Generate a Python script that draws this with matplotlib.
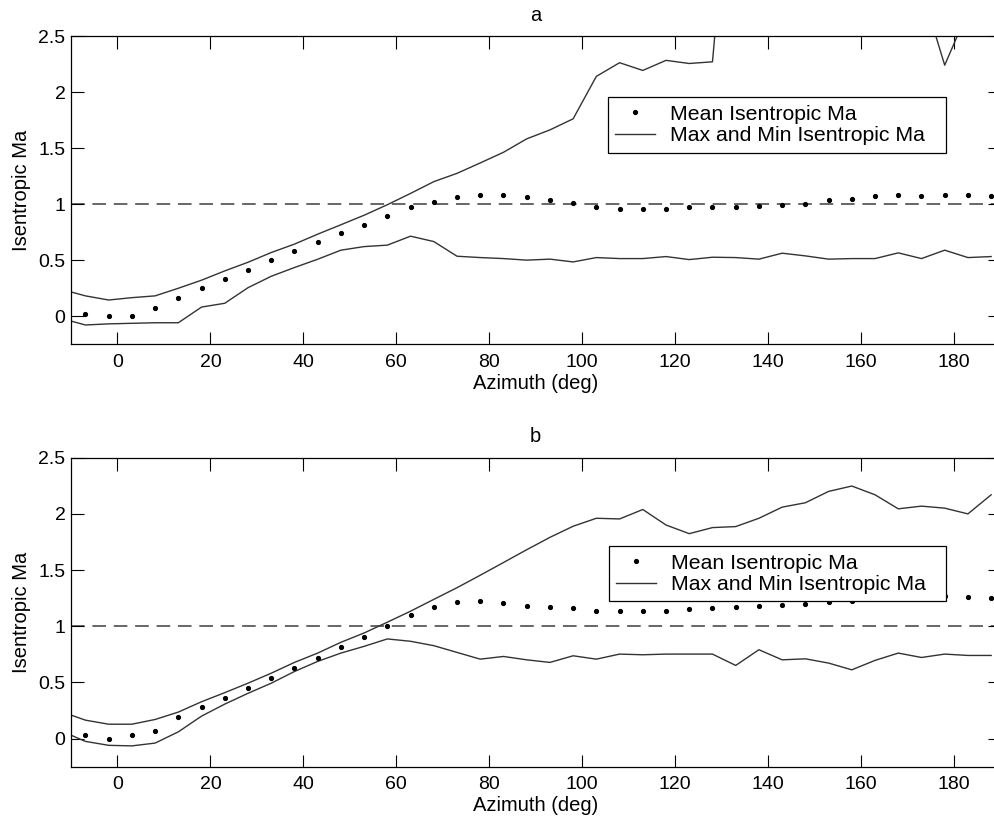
import matplotlib
matplotlib.use("Agg")
import matplotlib.pyplot as plt
from matplotlib.ticker import FuncFormatter

plt.rcParams['font.family'] = ['Liberation Sans', 'DejaVu Sans']

# ---- data ----
azimuth = [-6.9, -1.9, 3.1, 8.1, 13.1, 18.1, 23.1, 28.1, 33.1, 38.1,
           43.1, 48.1, 53.1, 58.1, 63.1, 68.1, 73.1, 78.1, 83.1, 88.1,
           93.1, 98.1, 103.1, 108.1, 113.1, 118.1, 123.1, 128.1, 133.1, 138.1,
           143.1, 148.1, 153.1, 158.1, 163.1, 168.1, 173.1, 178.1, 183.1, 188.1]
line_azimuth = [-10.0] + azimuth

# panel a
mean_a = [0.015, 0.0, 0.0, 0.07, 0.165, 0.25, 0.33, 0.415, 0.50, 0.58,
          0.66, 0.74, 0.817, 0.895, 0.97, 1.018, 1.06, 1.077, 1.077, 1.065,
          1.04, 1.012, 0.97, 0.958, 0.958, 0.958, 0.97, 0.97, 0.97, 0.98,
          0.99, 0.996, 1.032, 1.041, 1.068, 1.077, 1.068, 1.077, 1.077, 1.068]
max_a = [0.215, 0.18, 0.143, 0.164, 0.18, 0.248, 0.32, 0.403, 0.48, 0.567, 0.642,
         0.731, 0.815, 0.9, 0.994, 1.095, 1.2, 1.274, 1.367, 1.462, 1.582,
         1.662, 1.761, 2.14, 2.262, 2.193, 2.283, 2.255, 2.27, 4.6, 4.7,
         4.8, 4.7, 4.6, 4.5, 4.2, 3.6, 2.92, 2.24, 2.72, 3.0]
min_a = [-0.045, -0.08, -0.07, -0.065, -0.06, -0.06, 0.08, 0.114, 0.253, 0.355, 0.433,
         0.507, 0.588, 0.62, 0.633, 0.713, 0.665, 0.534, 0.522, 0.513, 0.499,
         0.508, 0.483, 0.522, 0.513, 0.513, 0.531, 0.504, 0.525, 0.522, 0.508,
         0.561, 0.537, 0.508, 0.513, 0.513, 0.564, 0.513, 0.588, 0.522, 0.531]

# panel b
mean_b = [0.03, 0.0, 0.03, 0.069, 0.188, 0.278, 0.358, 0.448, 0.537, 0.627,
          0.716, 0.812, 0.90, 1.0, 1.099, 1.17, 1.215, 1.224, 1.209, 1.176,
          1.17, 1.158, 1.14, 1.14, 1.14, 1.14, 1.149, 1.158, 1.17, 1.179,
          1.188, 1.2, 1.215, 1.221, 1.255, 1.26, 1.265, 1.265, 1.26, 1.254]
max_b = [0.209, 0.164, 0.128, 0.128, 0.17, 0.236, 0.328, 0.409, 0.493, 0.582, 0.678,
         0.761, 0.857, 0.94, 1.036, 1.134, 1.239, 1.343, 1.454, 1.567, 1.681,
         1.791, 1.89, 1.961, 1.955, 2.039, 1.901, 1.824, 1.878, 1.887, 1.961,
         2.06, 2.099, 2.2, 2.248, 2.17, 2.045, 2.069, 2.051, 2.0, 2.17]
min_b = [0.03, -0.025, -0.06, -0.065, -0.04, 0.06, 0.2, 0.307, 0.403, 0.493, 0.597,
         0.687, 0.761, 0.821, 0.887, 0.866, 0.827, 0.767, 0.707, 0.731, 0.701,
         0.678, 0.737, 0.707, 0.752, 0.746, 0.752, 0.752, 0.752, 0.651, 0.791,
         0.701, 0.71, 0.672, 0.612, 0.696, 0.761, 0.722, 0.752, 0.74, 0.74]

panels = [("a", mean_a, max_a, min_a), ("b", mean_b, max_b, min_b)]
xticks = [0, 20, 40, 60, 80, 100, 120, 140, 160, 180]
yticks = [0, 0.5, 1, 1.5, 2, 2.5]

fig = plt.figure(figsize=(9.95, 8.25), dpi=100)
positions = [[0.0714, 0.583, 0.9336, 0.3733], [0.0714, 0.0707, 0.9336, 0.3745]]
legend_boxes = [(0.5775, 0.601, 0.3647, 0.2), (0.5786, 0.514, 0.3636, 0.2)]

line_color = '#333333'
for (title, mean, mx, mn), pos, lbox in zip(panels, positions, legend_boxes):
    ax = fig.add_axes(pos)
    ax.axhline(1.0, color='#666666', lw=1.4, ls=(0, (7, 4)), zorder=1)
    ax.plot(azimuth, mean, ls='none', marker='.', ms=5.5, color='black',
            label='Mean Isentropic Ma', zorder=3)
    ax.plot(line_azimuth, mx, color=line_color, lw=1.0,
            label='Max and Min Isentropic Ma', zorder=2)
    ax.plot(line_azimuth, mn, color=line_color, lw=1.0, zorder=2)
    ax.set_xlim(-10, 190)
    ax.set_ylim(-0.25, 2.5)
    ax.set_xticks(xticks)
    ax.set_yticks(yticks)
    ax.yaxis.set_major_formatter(FuncFormatter(lambda v, p: '%g' % v))
    ax.tick_params(direction='in', top=True, right=True, length=9, width=0.8,
                   labelsize=14)
    ax.tick_params(axis='x', pad=7)
    ax.tick_params(axis='y', pad=4)
    for s in ax.spines.values():
        s.set_linewidth(0.9)
        s.set_color('black')
    ax.set_xlabel('Azimuth (deg)', fontsize=14.5, labelpad=2)
    ax.set_ylabel('Isentropic Ma', fontsize=14.5, labelpad=5)
    ax.set_title(title, fontsize=14.5, pad=11)
    leg = ax.legend(loc='upper left', bbox_to_anchor=lbox, mode='expand',
                    borderaxespad=0, fontsize=15.3, frameon=True, fancybox=False,
                    framealpha=1, handlelength=1.9, handletextpad=0.7,
                    labelspacing=0.12, borderpad=0.35)
    leg.get_frame().set_edgecolor('black')
    leg.get_frame().set_linewidth(0.9)
    leg.get_frame().set_facecolor('white')
    leg.set_zorder(5)

fig.savefig('out.png', dpi=100)
